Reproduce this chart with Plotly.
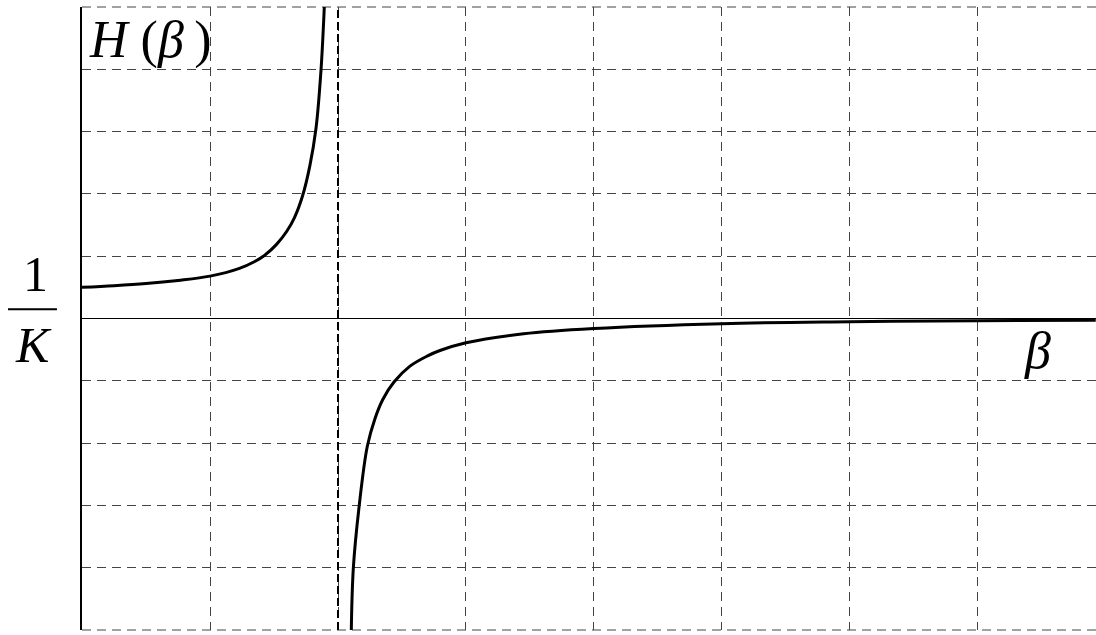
import plotly.graph_objects as go

# Left branch (beta < asymptote)
beta_left = [0.0, 0.25, 0.5, 0.75, 1.0, 1.23, 1.35, 1.43, 1.52, 1.6, 1.66, 1.724, 1.78, 1.828, 1.867, 1.893]
h_left = [0.50, 0.526, 0.56, 0.61, 0.68, 0.805, 0.915, 1.02, 1.19, 1.40, 1.62, 1.975, 2.45, 3.05, 3.98, 5.0]

# Right branch (beta > asymptote)
beta_right = [2.104, 2.12, 2.166, 2.229, 2.29, 2.35, 2.4375, 2.5625, 2.7, 2.797, 3.0, 3.45, 4.0, 5.0, 6.0, 7.0, 7.92]
h_right = [-5.0, -4.0, -3.0, -2.05, -1.6, -1.3, -1.02, -0.765, -0.6, -0.514, -0.39, -0.245, -0.16, -0.083, -0.0525, -0.035, -0.027]

asymptote_beta = 2.0
x_range = [0, 7.922]
y_range = [-5, 5]

fig = go.Figure()

fig.add_trace(go.Scatter(x=[asymptote_beta, asymptote_beta], y=y_range, mode="lines",
                         line=dict(color="black", width=2, dash="8px,4px"), hoverinfo="skip"))
fig.add_trace(go.Scatter(x=beta_left, y=h_left, mode="lines", line_shape="spline",
                         line=dict(color="black", width=3), hoverinfo="skip"))
fig.add_trace(go.Scatter(x=beta_right, y=h_right, mode="lines", line_shape="spline",
                         line=dict(color="black", width=3), hoverinfo="skip"))

serif = "'Liberation Serif', 'Times New Roman', serif"
grid_col = "#444444"
grid_dash = "9px,6px"

fig.update_layout(
    width=1096, height=635,
    margin=dict(l=82, r=0, t=7, b=5),
    paper_bgcolor="white", plot_bgcolor="white",
    showlegend=False,
    xaxis=dict(range=x_range, dtick=1, tick0=0, showticklabels=False, ticks="",
               showgrid=True, gridcolor=grid_col, griddash=grid_dash, gridwidth=1,
               zeroline=False, showline=False),
    yaxis=dict(range=y_range, dtick=1, tick0=0, showticklabels=False, ticks="",
               showgrid=True, gridcolor=grid_col, griddash=grid_dash, gridwidth=1,
               zeroline=True, zerolinecolor="black", zerolinewidth=1,
               showline=True, linecolor="black", linewidth=1.5, mirror=False),
    annotations=[
        dict(text="<i>H</i> (<i>β</i>\u2009)", xref="paper", yref="paper", x=0.005, y=0.947,
             xanchor="left", yanchor="middle", showarrow=False,
             font=dict(family=serif, size=52, color="black")),
        dict(text="1", xref="paper", yref="paper", x=-0.0454, y=0.571,
             xanchor="center", yanchor="middle", showarrow=False,
             font=dict(family=serif, size=50, color="black")),
        dict(text="<i>K</i>", xref="paper", yref="paper", x=-0.0483, y=0.4575,
             xanchor="center", yanchor="middle", showarrow=False,
             font=dict(family=serif, size=50, color="black")),
        dict(text="<i>β</i>", xref="paper", yref="paper", x=0.942, y=0.449,
             xanchor="center", yanchor="middle", showarrow=False,
             font=dict(family=serif, size=52, color="black")),
    ],
    shapes=[
        dict(type="line", xref="paper", yref="paper", x0=-0.073, x1=-0.0247, y0=0.515, y1=0.515,
             line=dict(color="black", width=2)),
        dict(type="line", xref="paper", yref="paper", x0=0, x1=1, y0=1, y1=1,
             line=dict(color=grid_col, width=1, dash=grid_dash), layer="below"),
        dict(type="line", xref="paper", yref="paper", x0=0, x1=1, y0=0, y1=0,
             line=dict(color=grid_col, width=1, dash=grid_dash), layer="below"),
    ],
)

fig.write_html("out.html", config={"displayModeBar": False},
               post_script="document.body.style.margin='0';")
